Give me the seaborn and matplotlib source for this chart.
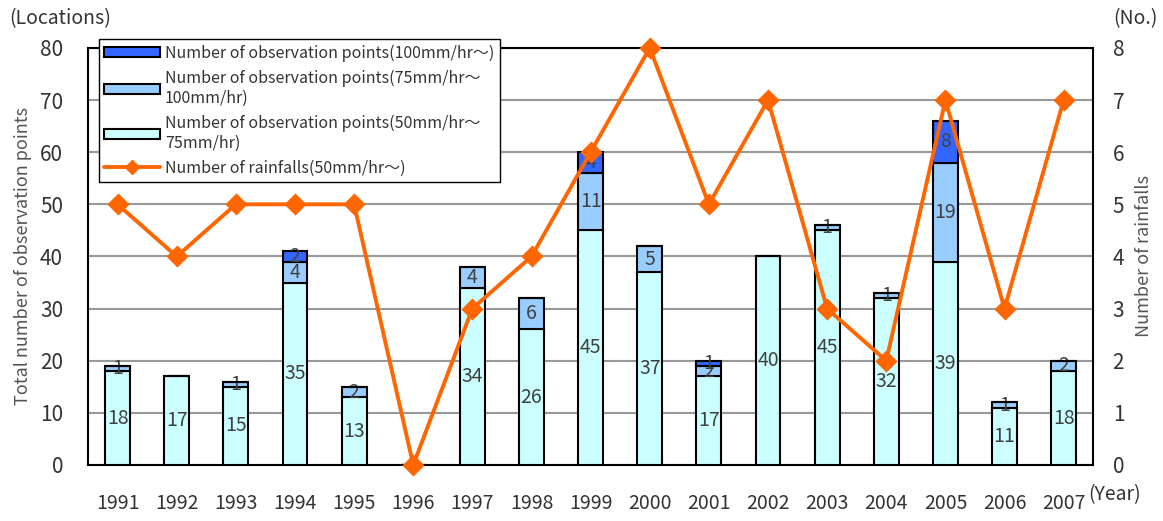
import numpy as np
import matplotlib
matplotlib.use('Agg')
import matplotlib.pyplot as plt
from matplotlib.patches import Patch
from matplotlib.lines import Line2D
import seaborn as sns

# data
years = [str(y) for y in range(1991, 2008)]
pts_50_75 = [18, 17, 15, 35, 13, 0, 34, 26, 45, 37, 17, 40, 45, 32, 39, 11, 18]
pts_75_100 = [1, 0, 1, 4, 2, 0, 4, 6, 11, 5, 2, 0, 1, 1, 19, 1, 2]
pts_100 = [0, 0, 0, 2, 0, 0, 0, 0, 4, 0, 1, 0, 0, 0, 8, 0, 0]
rainfalls = [5, 4, 5, 5, 5, 0, 3, 4, 6, 8, 5, 7, 3, 2, 7, 3, 7]

labels = [
    'Number of observation points(100mm/hr～)',
    'Number of observation points(75mm/hr～\n100mm/hr)',
    'Number of observation points(50mm/hr～\n75mm/hr)',
    'Number of rainfalls(50mm/hr～)',
]
colors = ['#3366FF', '#99CCFF', '#CCFFFF']
line_color = '#FF6600'
text_color = '#333333'

sns.set_style('white')
plt.rcParams['font.family'] = ['Noto Sans CJK JP', 'DejaVu Sans']

fig = plt.figure(figsize=(11.63, 5.21), dpi=100)
ax = fig.add_axes([0.0757, 0.1075, 0.8643, 0.8005])

# stacked bars
bottom_75 = np.array(pts_50_75)
bottom_100 = bottom_75 + np.array(pts_75_100)
series = [(pts_50_75, 0, colors[2]), (pts_75_100, bottom_75, colors[1]),
          (pts_100, bottom_100, colors[0])]
for vals, bot, col in series:
    sns.barplot(x=years, y=vals, bottom=bot, color=col, saturation=1,
                edgecolor='black', linewidth=1.5, width=0.42, ax=ax, zorder=3)
    ax.bar_label(ax.containers[-1], labels=[str(v) if v else '' for v in vals],
                 label_type='center', fontsize=14, color='#404040')

ax.set_ylim(0, 80)
ax.set_yticks(range(0, 81, 10))
ax.yaxis.grid(True, color='#999999', linewidth=1.5, zorder=0)
ax.set_axisbelow(True)
ax.set_ylabel('Total number of observation points', fontsize=13, color='#555555',
              labelpad=6)
ax.set_xlabel('')
ax.tick_params(axis='y', length=0, labelsize=15, labelcolor=text_color, pad=18)
ax.tick_params(axis='x', length=0, labelsize=14, labelcolor=text_color, pad=20)
ax.set_xticks(np.arange(len(years)) + 0.5, minor=True)
ax.tick_params(axis='x', which='minor', direction='in', length=5, width=1)
for s in ax.spines.values():
    s.set_color('black')
    s.set_linewidth(1.5)

# rainfall line on the secondary axis
ax2 = ax.twinx()
sns.pointplot(x=years, y=rainfalls, ax=ax2, color=line_color, marker='D',
              markersize=9, linewidth=2.8, errorbar=None, clip_on=False)
ax2.set_ylim(0, 8)
ax2.set_yticks(range(0, 9))
ax2.set_ylabel('Number of rainfalls', fontsize=13, color='#555555', labelpad=8)
ax2.tick_params(axis='y', length=0, labelsize=15, labelcolor=text_color, pad=14)
for s in ax2.spines.values():
    s.set_visible(False)

fig.text(0.008, 0.965, '(Locations)', fontsize=14, color=text_color, va='center')
fig.text(0.976, 0.965, '(No.)', fontsize=14, color=text_color, va='center', ha='center')
fig.text(0.936, 0.05, '(Year)', fontsize=14, color=text_color, va='center')

handles = [Patch(facecolor=c, edgecolor='black', linewidth=1.5) for c in colors]
handles.append(Line2D([], [], color=line_color, marker='D', markersize=7, linewidth=2.8))
leg = fig.legend(handles, labels, loc='upper left', bbox_to_anchor=(0.078, 0.94),
                 fontsize=11.5, frameon=True, fancybox=False, edgecolor='black',
                 framealpha=1, handlelength=3.5, handleheight=0.6, labelspacing=0.5,
                 borderpad=0.35, handletextpad=0.3, labelcolor=text_color)
leg.get_frame().set_linewidth(1.0)

fig.savefig('out.png', dpi=100)
